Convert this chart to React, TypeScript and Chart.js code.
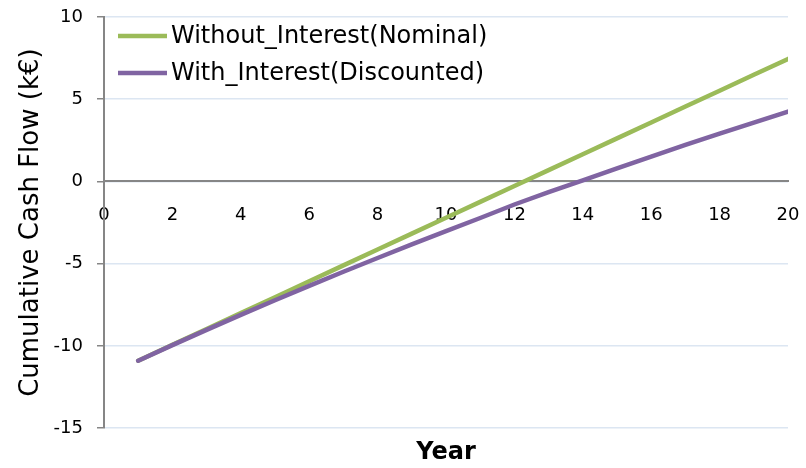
import React, { useEffect, useRef } from "react";
import { Chart, registerables } from "chart.js";

Chart.register(...registerables);

const years = [1, 2, 3, 4, 5, 6, 7, 8, 9, 10, 11, 12, 13, 14, 15, 16, 17, 18, 19, 20];
const nominal = [-10.9, -9.93, -8.97, -8.0, -7.04, -6.07, -5.1, -4.14, -3.17, -2.21, -1.24, -0.27, 0.69, 1.66, 2.62, 3.59, 4.56, 5.52, 6.49, 7.45];
const discounted = [-10.9, -9.95, -9.02, -8.11, -7.22, -6.35, -5.49, -4.65, -3.82, -3.02, -2.22, -1.4, -0.65, 0.06, 0.8, 1.51, 2.22, 2.91, 3.58, 4.25];
const seriesNames = ["Without_Interest(Nominal)", "With_Interest(Discounted)"];
const xTitle = "Year";
const yTitle = "Cumulative Cash Flow (k€)";

const GREEN = "#9BBB59";
const PURPLE = "#8064A2";
const FONT = '"DejaVu Sans", sans-serif';

const insideLegend = {
  id: "insideLegend",
  afterDatasetsDraw(chart: any) {
    const { ctx, chartArea } = chart;
    ctx.save();
    ctx.font = `24px ${FONT}`;
    ctx.textBaseline = "middle";
    ctx.textAlign = "left";
    chart.data.datasets.forEach((ds: any, i: number) => {
      const x = chartArea.left + 14;
      const y = chartArea.top + 19 + i * 37;
      ctx.strokeStyle = ds.borderColor;
      ctx.lineWidth = 4.5;
      ctx.lineCap = "butt";
      ctx.beginPath();
      ctx.moveTo(x, y);
      ctx.lineTo(x + 49, y);
      ctx.stroke();
      ctx.fillStyle = "#000";
      ctx.fillText(ds.label, x + 53, y + 1);
    });
    ctx.restore();
  },
};

export default function App() {
  const ref = useRef<HTMLCanvasElement | null>(null);

  useEffect(() => {
    document.body.style.margin = "0";
    const canvas = ref.current;
    if (!canvas) return;
    const chart = new Chart(canvas, {
      type: "line",
      data: {
        datasets: [
          {
            label: seriesNames[0],
            data: years.map((y, i) => ({ x: y, y: nominal[i] })),
            borderColor: GREEN,
            backgroundColor: GREEN,
            borderWidth: 4.5,
            pointRadius: 0,
            tension: 0,
            borderCapStyle: "round",
            order: 2,
          },
          {
            label: seriesNames[1],
            data: years.map((y, i) => ({ x: y, y: discounted[i] })),
            borderColor: PURPLE,
            backgroundColor: PURPLE,
            borderWidth: 4.5,
            pointRadius: 0,
            tension: 0,
            borderCapStyle: "round",
            order: 1,
          },
        ],
      },
      options: {
        responsive: false,
        animation: false,
        devicePixelRatio: 1,
        layout: { padding: { top: 17, right: 18, bottom: 0, left: 0 } },
        plugins: {
          legend: { display: false },
          tooltip: { enabled: false },
          title: {
            display: true,
            text: xTitle,
            position: "bottom",
            fullSize: false,
            color: "#000",
            font: { family: FONT, size: 24, weight: "bold" },
            padding: { top: 10, bottom: 1 },
          },
        },
        scales: {
          x: {
            type: "linear",
            position: { y: 0 },
            min: 0,
            max: 20,
            afterFit: (scale: any) => {
              scale.paddingLeft = 0;
              scale.paddingRight = 0;
            },
            ticks: {
              stepSize: 2,
              padding: 23,
              color: "#000",
              font: { family: FONT, size: 18 },
              maxRotation: 0,
            },
            grid: { display: false, drawTicks: false },
            border: { display: true, color: "#868686", width: 2 },
          },
          y: {
            type: "linear",
            min: -15,
            max: 10,
            afterFit: (scale: any) => {
              scale.width = 104;
              scale.paddingTop = 0;
              scale.paddingBottom = 0;
            },
            ticks: {
              stepSize: 5,
              padding: 14,
              color: "#000",
              font: { family: FONT, size: 18 },
            },
            grid: {
              color: "#DCE6F2",
              lineWidth: 1.5,
              tickColor: "#868686",
              tickLength: 7,
              drawTicks: true,
            },
            border: { display: true, color: "#868686", width: 2 },
            title: {
              display: true,
              text: yTitle,
              color: "#000",
              font: { family: FONT, size: 26 },
              padding: { top: 16, bottom: 0 },
            },
          },
        },
      },
      plugins: [insideLegend],
    });
    return () => chart.destroy();
  }, []);

  return (
    <div style={{ width: 806, height: 468, background: "#fff" }}>
      <canvas ref={ref} width={806} height={468} />
    </div>
  );
}
